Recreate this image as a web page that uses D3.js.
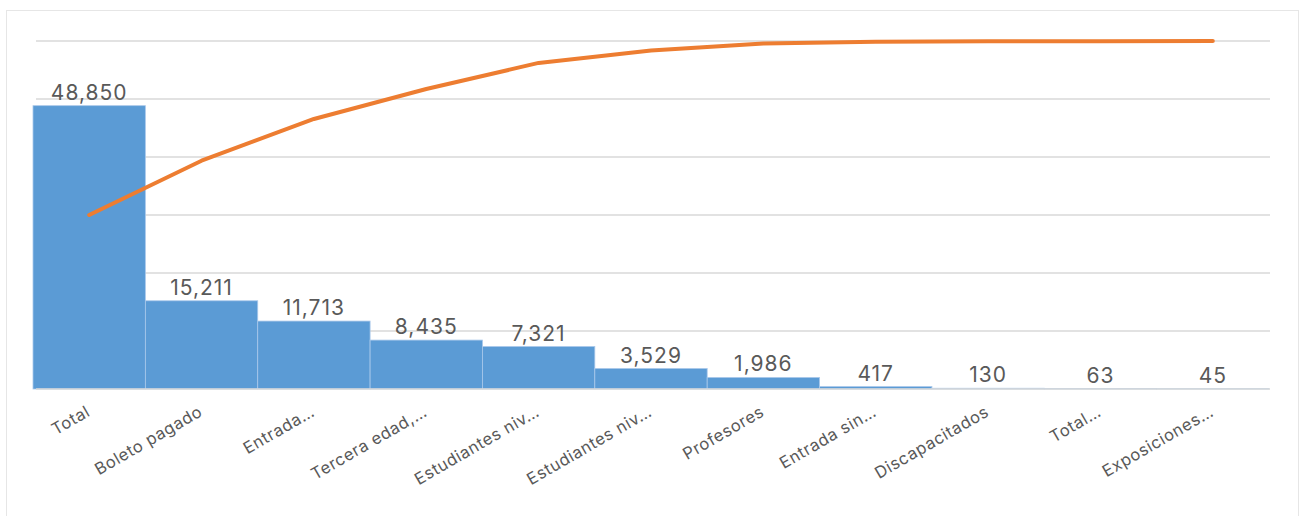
<!DOCTYPE html>
<html lang="es">
<head>
  <meta charset="UTF-8">
  <title>Visitantes por tipo de entrada</title>
  <script src="https://d3js.org/d3.v7.min.js"></script>
  <style>
    body { margin: 0; background: #fff; font-family: 'Inter', 'Noto Sans', sans-serif; }
    .bar-label { fill: #595959; font-size: 21px; letter-spacing: 1px; text-anchor: middle; }
    .x-label { fill: #595959; font-size: 16.5px; letter-spacing: 0.6px; }
  </style>
</head>
<body>
  <svg id="chart" width="1302" height="516"></svg>
  <script>
    // Datos
    const categorias = ["Total", "Boleto pagado", "Entrada…", "Tercera edad,…", "Estudiantes niv…",
      "Estudiantes niv…", "Profesores", "Entrada sin…", "Discapacitados", "Total…", "Exposiciones…"];
    const visitantes = [48850, 15211, 11713, 8435, 7321, 3529, 1986, 417, 130, 63, 45];
    const acumuladoPct = [50.0, 65.6, 77.6, 86.2, 93.7, 97.3, 99.3, 99.8, 99.9, 99.95, 100];
    const ticksY = [0, 10000, 20000, 30000, 40000, 50000, 60000];

    const margin = { top: 41, right: 32, bottom: 127, left: 36 };
    const width = 1302 - margin.left - margin.right;
    const height = 516 - margin.top - margin.bottom;

    const svg = d3.select("#chart");

    // marco
    svg.append("rect")
      .attr("x", 6.5).attr("y", 10.5)
      .attr("width", 1292).attr("height", 520)
      .attr("fill", "none").attr("stroke", "#e6e6e6");

    const g = svg.append("g").attr("transform", `translate(${margin.left},${margin.top})`);

    const dataset = categorias.map((c, i) => ({ i, cat: c, v: visitantes[i], p: acumuladoPct[i] }));

    const x = d3.scaleBand().domain(dataset.map(d => d.i)).range([-3, width - 1]).padding(0);
    const y = d3.scaleLinear().domain([0, 60000]).range([height, 0]);
    const y2 = d3.scaleLinear().domain([0, 100]).range([height, 0]);

    // rejilla
    g.selectAll(".grid")
      .data(ticksY.slice(1))
      .enter().append("line")
      .attr("x1", 0).attr("x2", width)
      .attr("y1", d => y(d)).attr("y2", d => y(d))
      .attr("stroke", "#d9d9d9").attr("stroke-width", 1.5);

    // barras
    g.selectAll("rect.bar")
      .data(dataset)
      .enter().append("rect")
      .attr("class", "bar")
      .attr("x", d => x(d.i))
      .attr("y", d => y(d.v))
      .attr("width", x.bandwidth())
      .attr("height", d => height - y(d.v))
      .attr("fill", "#5b9bd5")
      .attr("stroke", "#a9c8ea").attr("stroke-width", 0.8);

    // línea base
    g.append("line")
      .attr("x1", 0).attr("x2", width)
      .attr("y1", y(0)).attr("y2", y(0))
      .attr("stroke", "#d9d9d9").attr("stroke-width", 1.5);

    // etiquetas de valor
    g.selectAll(".bar-label")
      .data(dataset)
      .enter().append("text")
      .attr("class", "bar-label")
      .attr("x", d => x(d.i) + x.bandwidth() / 2)
      .attr("y", d => Math.min(y(d.v) - 6, height - 4))
      .text(d => d3.format(",")(d.v));

    // línea de Pareto
    const line = d3.line()
      .x(d => x(d.i) + x.bandwidth() / 2)
      .y(d => y2(d.p));

    g.append("path")
      .datum(dataset)
      .attr("d", line)
      .attr("fill", "none")
      .attr("stroke", "#ed7d31")
      .attr("stroke-width", 4)
      .attr("stroke-linecap", "round")
      .attr("stroke-linejoin", "round");

    // etiquetas del eje X
    g.selectAll(".x-label")
      .data(dataset)
      .enter().append("text")
      .attr("class", "x-label")
      .attr("text-anchor", "end")
      .attr("transform", d => `translate(${x(d.i) + x.bandwidth() / 2 + 2},${height + 26}) rotate(-30)`)
      .text(d => d.cat);
  </script>
</body>
</html>
